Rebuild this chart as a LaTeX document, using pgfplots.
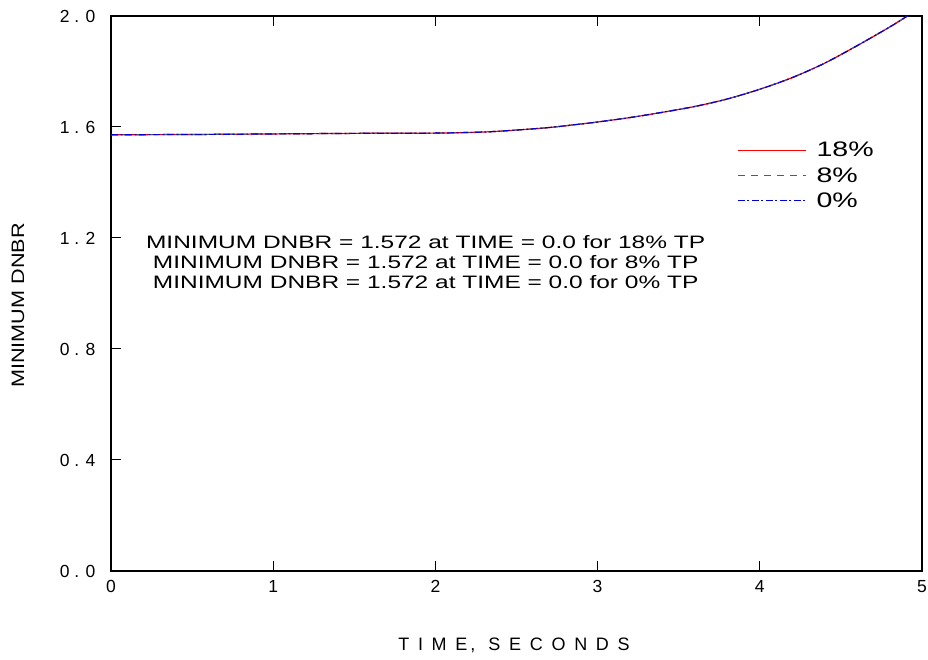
\documentclass[border=0pt]{standalone}
\usepackage{pgfplots}
\pgfplotsset{compat=1.18}
\usepackage{fontspec}
\setmainfont{Liberation Sans}
\newfontfamily\wideA{Liberation Sans}[FakeStretch=1.36]
\newfontfamily\wideB{Liberation Sans}[FakeStretch=1.2]
\pgfplotstableread{
t v
0.0 1.572
0.5 1.573
1.0 1.575
1.5 1.577
2.0 1.578
2.3 1.582
2.5 1.589
2.7 1.598
2.9 1.611
3.0 1.618
3.2 1.634
3.4 1.653
3.6 1.674
3.8 1.701
4.0 1.736
4.2 1.778
4.4 1.830
4.6 1.893
4.8 1.960
4.91 2.0
}\dnbr
\begin{document}
\begin{tikzpicture}
\begin{axis}[name=ax, scale only axis, width=811pt, height=555pt,
  xmin=0, xmax=5, ymin=0, ymax=2,
  xtick={0,1,2,3,4,5}, xticklabels={0,1,2,3,4,5},
  ytick={0,0.4,0.8,1.2,1.6,2.0},
  yticklabels={0 . 0,0 . 4,0 . 8,1 . 2,1 . 6,2 . 0},
  tick align=inside, xtick pos=both, ytick pos=left,
  major tick length=10pt,
  axis line style={line width=1.3pt},
  tick style={line width=1pt, black},
  ticklabel style={font=\fontsize{17.5}{20}\selectfont},
  yticklabel style={xshift=-12pt},
  xticklabel style={yshift=-6pt},
  legend style={at={(axis cs:3.86,1.553)}, anchor=north west, draw=none, fill=none,
    font=\wideA\fontsize{21}{23}\selectfont, row sep=5pt, inner sep=0pt},
  legend cell align=left,
  legend image code/.code={\draw[#1] (0pt,0pt) -- (68pt,0pt); \path (76pt,0pt);},
  clip=false,
]
\addplot[red, line width=1.2pt, smooth] table[x=t,y=v]{\dnbr};
\addlegendentry{18\%}
\addplot[black!65, line width=1.2pt, smooth, dash pattern=on 7pt off 6pt] table[x=t,y=v]{\dnbr};
\addlegendentry{8\%}
\addplot[blue!85!black, line width=1.2pt, smooth, dash pattern=on 7pt off 2.5pt on 2pt off 2.5pt] table[x=t,y=v]{\dnbr};
\addlegendentry{0\%}
\node[font=\wideA\fontsize{18}{20}\selectfont, align=center] at (axis cs:1.94,1.113)
 {MINIMUM DNBR = 1.572 at TIME = 0.0 for 18\% TP\\
  MINIMUM DNBR = 1.572 at TIME = 0.0 for 8\% TP\\
  MINIMUM DNBR = 1.572 at TIME = 0.0 for 0\% TP};
\end{axis}
\node[rotate=90, font=\wideB\fontsize{18}{20}\selectfont] at ([xshift=-93pt,yshift=-12pt]ax.west) {MINIMUM DNBR};
\node[font=\fontsize{18}{20}\selectfont] at ([xshift=-2.5pt,yshift=-74pt]ax.south)
 {T\kern8.7pt I\kern8.7pt M\kern8.7pt E\kern3pt,\kern13pt S\kern8.7pt E\kern8.7pt C\kern8.7pt O\kern8.7pt N\kern8.7pt D\kern8.7pt S};
\pgfresetboundingbox
\path ([xshift=-111pt,yshift=-89pt]ax.south west) rectangle ([xshift=6pt,yshift=16pt]ax.north east);
\end{tikzpicture}
\end{document}
